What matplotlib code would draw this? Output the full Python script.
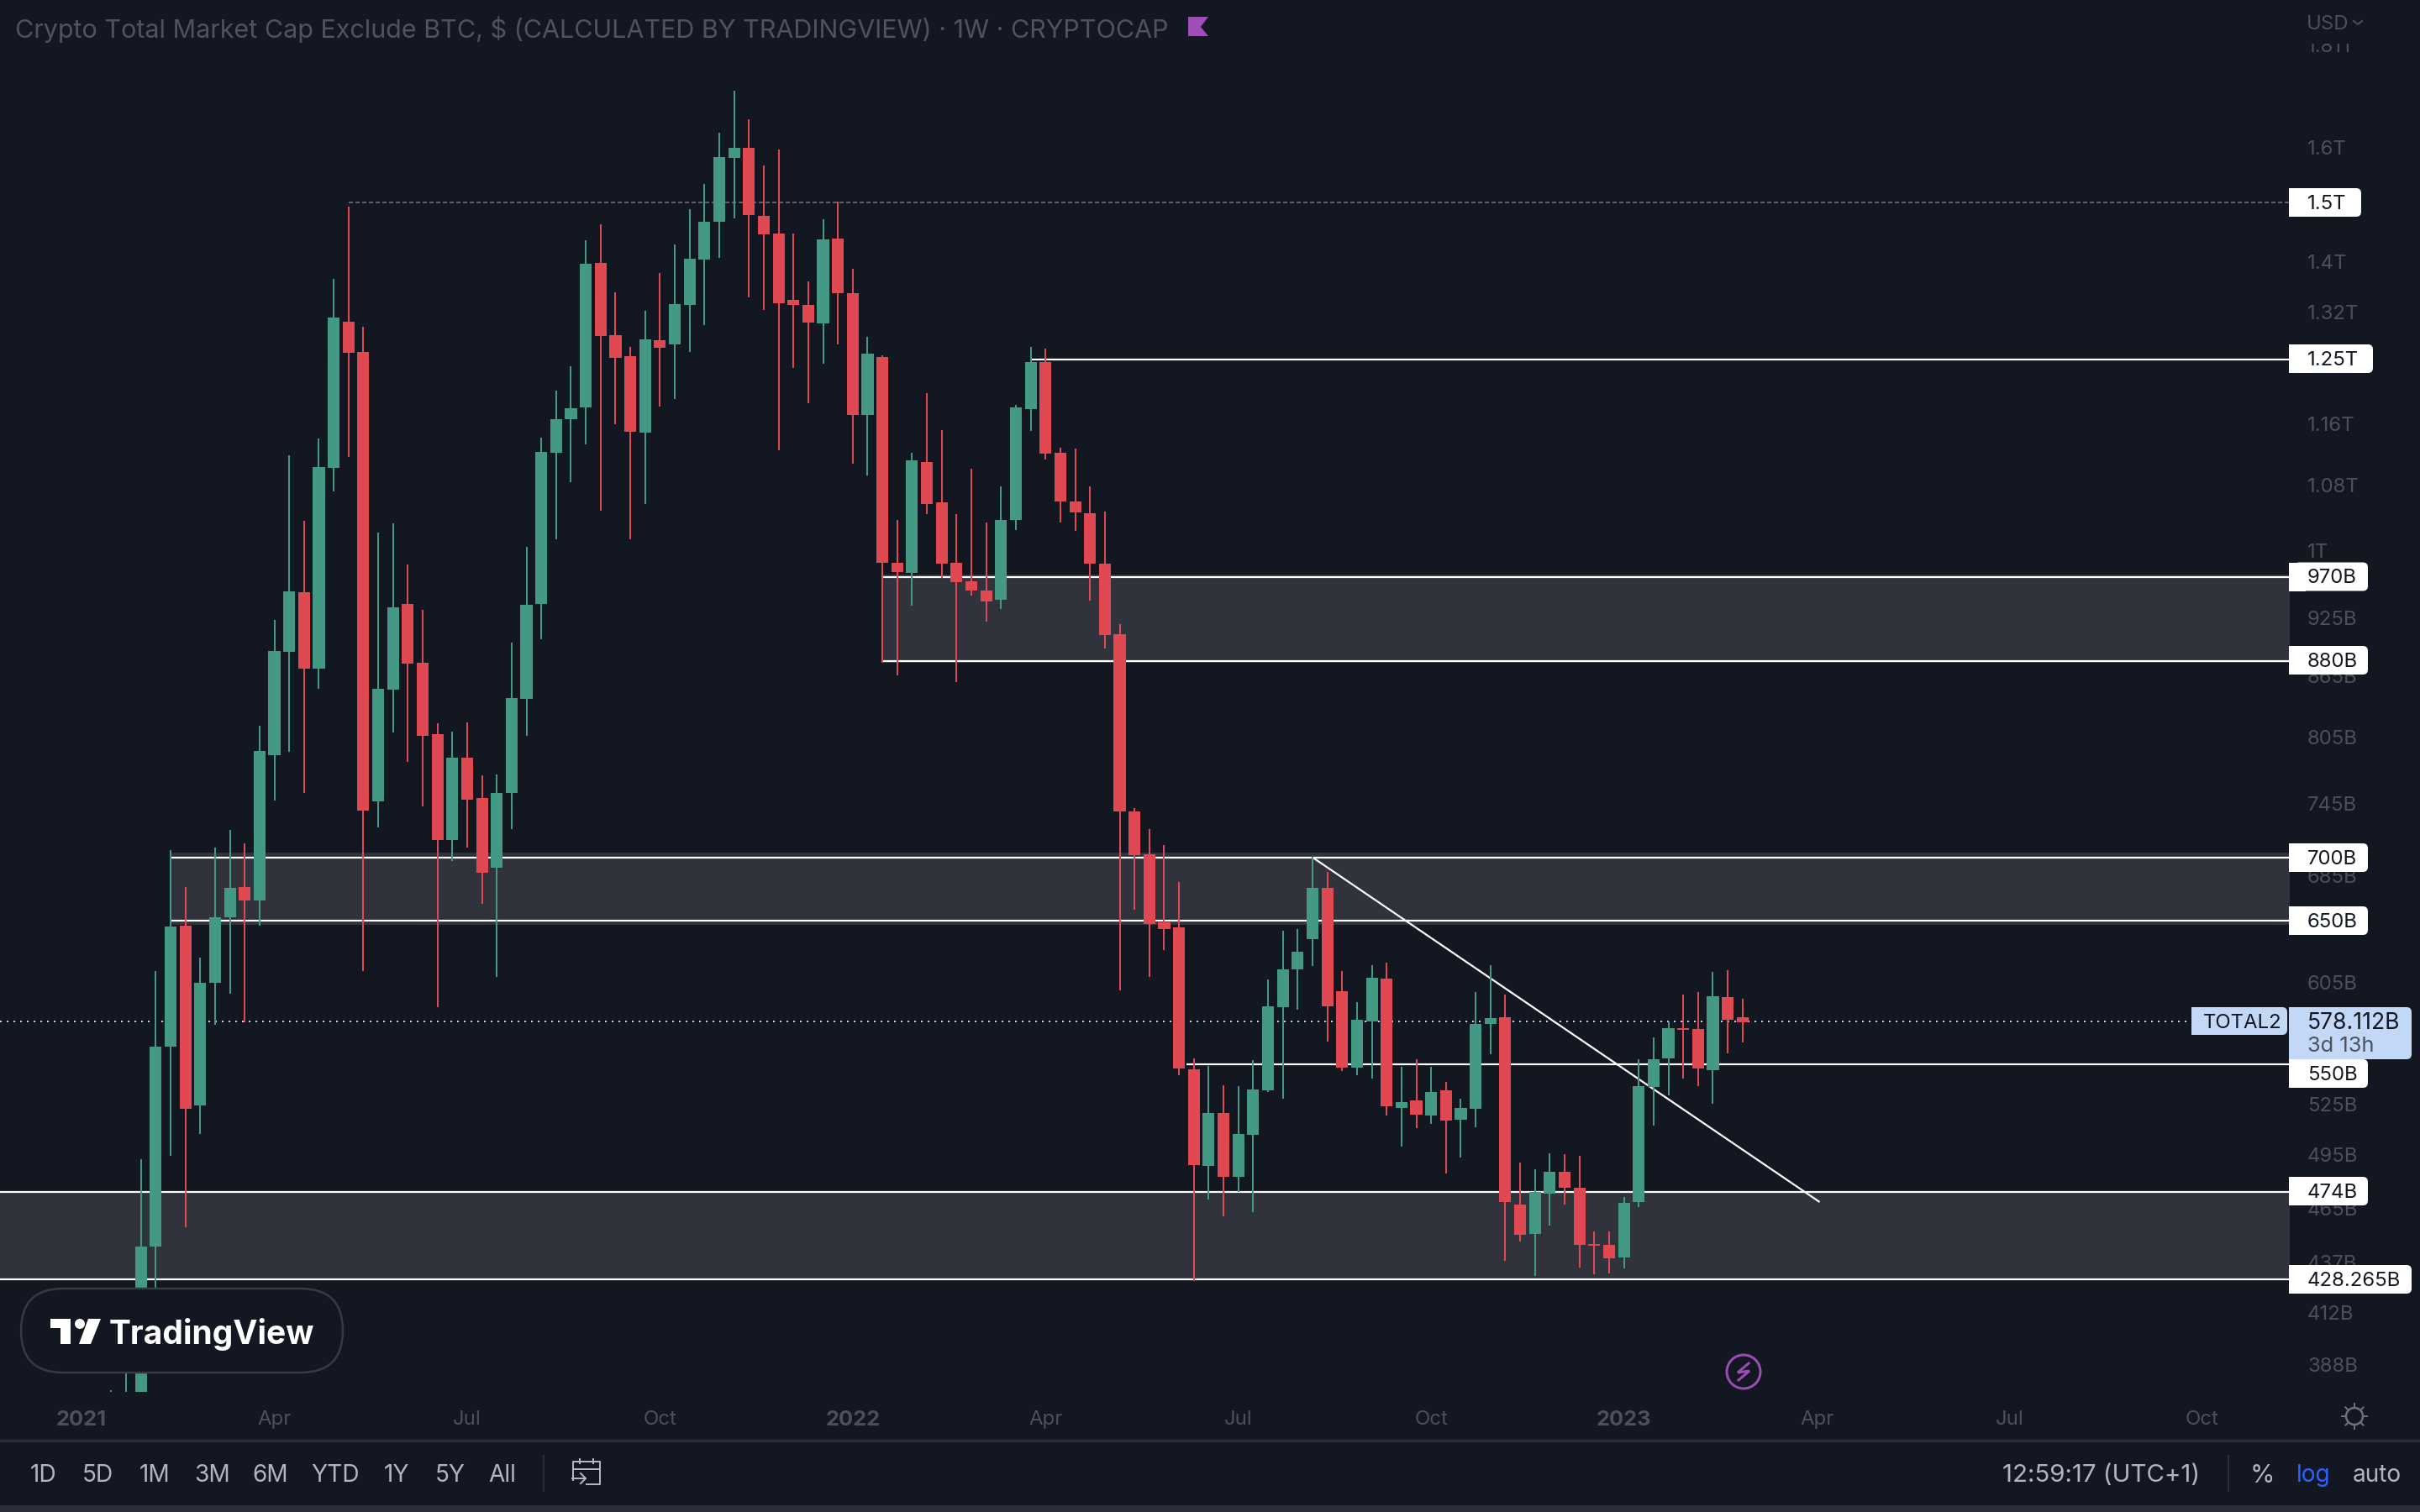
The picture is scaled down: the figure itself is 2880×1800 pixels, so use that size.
import numpy as np
import matplotlib
matplotlib.use("Agg")
import matplotlib.pyplot as plt
from matplotlib.patches import Rectangle, FancyBboxPatch, Circle, Polygon

plt.rcParams['font.family'] = ['Inter', 'DejaVu Sans']

# =====================
# DATA (billions USD, weekly candles)
# =====================

first_week = -1

opens = [360.2,360.2,373.8,444.9,561.5,646.3,524.3,604.8,652.7,676.1,665.6,788.3,889.0,952.9,
871.8,1101.3,1305.5,1260.4,747.0,850.7,940.0,877.8,807.8,714.1,785.9,749.9,691.5,754.3,
841.6,940.0,1120.8,1165.5,1181.6,1398.0,1285.3,1254.2,1147.5,1277.8,1271.5,1331.3,1403.5,1466.6,
1579.8,1598.4,1476.7,1446.7,1339.2,1331.3,1303.0,1438.2,1349.7,1171.3,1253.0,986.1,974.6,1108.9,
1058.0,986.1,965.1,954.8,944.6,1036.5,1179.3,1245.7,1120.8,1059.0,1044.6,985.1,907.4,738.3,
702.4,648.9,645.1,546.8,488.7,519.7,482.5,506.7,533.6,587.9,614.3,636.3,675.4,598.9,
547.9,578.2,607.7,522.8,527.4,518.2,533.6,515.7,522.3,576.5,581.0,467.2,451.5,473.1,
485.3,476.4,446.2,445.8,439.3,468.5,535.7,553.8,573.7,573.1,546.3,594.8,581.0]

highs = [376.4,406.2,492.5,613.1,705.8,676.1,622.8,707.9,722.6,711.3,815.7,922.7,1117.6,1035.5,
1139.6,1372.3,1492.7,1297.9,1021.4,1032.5,984.2,933.5,818.1,810.1,818.9,770.0,770.7,898.6,
1004.6,1140.7,1204.9,1239.6,1435.4,1462.3,1351.0,1267.8,1322.2,1381.7,1428.4,1488.3,1532.6,1626.8,
1708.3,1652.5,1565.9,1595.3,1446.7,1368.3,1471.0,1501.5,1388.5,1282.8,1255.5,1036.5,1120.8,1201.4,
1150.8,1043.6,1100.2,1033.5,1077.8,1185.1,1267.8,1265.3,1127.4,1126.3,1077.8,1046.7,918.2,741.2,
723.3,710.0,680.1,553.8,549.0,536.8,536.2,552.7,607.1,642.6,643.8,700.3,688.1,613.1,
591.3,617.3,619.1,548.4,553.3,548.4,538.9,528.4,598.3,617.3,596.5,490.6,486.8,495.9,
495.4,494.4,452.8,452.8,471.3,553.3,567.5,578.2,596.5,598.3,612.5,613.7,593.6]

lows = [353.2,353.2,353.2,421.2,494.4,455.0,507.2,575.9,597.1,577.6,646.3,747.7,791.3,754.3,
851.6,1071.5,1115.4,613.1,724.7,809.3,782.1,742.6,587.9,696.9,707.9,663.0,608.9,723.3,
806.2,902.1,1013.5,1083.1,1131.9,1047.7,1158.7,1013.5,1055.9,1182.8,1193.2,1260.4,1300.4,1406.3,
1472.4,1343.1,1323.5,1124.1,1237.2,1187.4,1243.2,1271.5,1106.7,1091.6,877.8,865.0,938.1,1043.6,
968.9,858.2,949.2,920.8,934.5,1024.4,1149.7,1112.1,1033.5,1023.4,943.6,892.5,599.5,658.5,
608.9,628.3,543.1,427.4,469.9,460.8,474.1,463.1,532.6,528.4,586.1,616.7,564.8,545.8,
543.1,541.0,518.2,499.8,510.6,513.2,484.4,493.5,511.1,556.5,437.5,447.5,429.9,455.9,
467.2,434.1,430.8,431.2,433.7,465.8,512.1,530.5,541.0,536.2,525.3,557.1,564.2]

closes = [367.3,373.8,444.9,561.5,645.7,522.3,604.8,652.7,675.4,665.6,792.1,889.9,953.8,871.8,
1102.4,1311.9,1259.2,739.0,851.6,936.3,876.9,806.2,714.1,785.9,748.4,687.4,754.3,842.5,
939.0,1121.9,1165.5,1180.5,1396.7,1284.0,1251.8,1148.6,1279.0,1266.6,1332.6,1404.9,1466.6,1581.3,
1598.4,1478.2,1445.3,1333.9,1331.3,1304.3,1436.8,1349.7,1171.3,1257.9,986.1,975.5,1111.0,1055.9,
985.1,964.2,954.8,942.7,1036.5,1181.6,1245.7,1119.7,1059.0,1045.7,985.1,906.6,738.3,701.7,
647.6,643.8,547.4,489.1,519.7,482.5,507.2,534.1,588.4,614.3,627.0,675.4,588.4,547.9,
579.3,608.3,523.8,526.4,518.7,532.6,515.2,522.8,576.5,580.4,468.5,451.0,474.1,485.3,
476.4,445.8,445.3,438.8,468.1,536.2,553.3,573.7,572.5,547.4,595.4,579.3,577.6]

price_ticks = [1802, 1600, 1400, 1320, 1160, 1080, 1000, 925, 865, 805, 745, 685,
               605, 525, 495, 465, 437, 412, 388]
price_labels = ["1.81T", "1.6T", "1.4T", "1.32T", "1.16T", "1.08T", "1T", "925B", "865B", "805B",
                "745B", "685B", "605B", "525B", "495B", "465B", "437B", "412B", "388B"]

time_ticks = [-3, 10, 23, 36, 49, 62, 75, 88, 101, 114, 127, 140]
time_labels = ["2021", "Apr", "Jul", "Oct", "2022", "Apr", "Jul", "Oct", "2023", "Apr", "Jul", "Oct"]

# zonas grises: arriba, abajo, semana inicial
zone_tops = [704, 973, 474]
zone_bottoms = [647, 878, 428.265]
zone_starts = [3, 51, -9]

# niveles blancos
level_values = [970, 880, 700, 650, 550, 474, 428.265, 1250]
level_starts = [51, 51, 3, 3, 71.5, -9, -9, 61.1]
resistance_value = 1500
resistance_start = 15
last_price = 578.112
trend_x = [80, 114.2]
trend_y = [700, 468.6]

box_values = ["1.5T", "1.25T", "970B", "880B", "700B", "650B", "550B", "474B", "428.265B"]
box_rows = [241, 427, 686.5, 786, 1021, 1096, 1278, 1418, 1523]
box_ends = [2810, 2824, 2818, 2818, 2818, 2818, 2818, 2818, 2870]

toolbar_left = ["1D", "5D", "1M", "3M", "6M", "YTD", "1Y", "5Y", "All"]
toolbar_left_x = [52, 116, 184, 253, 322, 399, 472, 536, 598]

# =====================
# COLORES
# =====================

BG = "#131722"
GREEN = "#449984"
RED = "#e04951"
ZONE = "#30333b"
TICK = "#4d505b"
BOX_BLUE = "#c3d8f6"
LIGHT = "#b2b5be"
SEP = "#2a2e39"
PURPLE = "#9a4db3"

W, H = 2880, 1800
PANE_R, PANE_B = 2724, 1657
px = 0.72  # puntos por pixel con dpi=100

fig = plt.figure(figsize=(W / 100, H / 100), dpi=100, facecolor=BG)
ax = fig.add_axes([0, (H - PANE_B) / H, PANE_R / W, PANE_B / H], facecolor=BG)
ax.set_yscale("log")

xmin, xmax = -8.5, 145.84
ax.set_xlim(xmin, xmax)
ax.set_ylim(375.7, 1899)

# zonas y lineas
for top, bot, start in zip(zone_tops, zone_bottoms, zone_starts):
    ax.fill_between([start, xmax + 1], bot, top, color=ZONE, lw=0, zorder=1)

for val, start in zip(level_values, level_starts):
    ax.plot([start, xmax + 1], [val, val], color="white", lw=2.2 * px, zorder=2, solid_capstyle="butt")

ax.plot([resistance_start, xmax + 1], [resistance_value] * 2, color="#5d606b", lw=2 * px,
        ls=(0, (2.5, 1.5)), zorder=2)
ax.plot([xmin, 139.2], [last_price] * 2, color=BOX_BLUE, lw=2 * px, ls=(0, (1, 3)), zorder=2)
ax.plot(trend_x, trend_y, color="white", lw=2.2 * px, zorder=2, solid_capstyle="butt")

# velas
weeks = np.arange(len(opens)) + first_week
opens = np.array(opens)
closes = np.array(closes)
candle_colors = [GREEN if c >= o else RED for o, c in zip(opens, closes)]
ax.vlines(weeks, lows, highs, colors=candle_colors, lw=2.0 * px, zorder=3)
ax.bar(weeks, np.abs(closes - opens), bottom=np.minimum(opens, closes), width=0.8,
       color=candle_colors, lw=0, zorder=4)

# ejes
for s in ax.spines.values():
    s.set_visible(False)
ax.yaxis.tick_right()
ax.set_yticks(price_ticks, price_labels)
ax.set_yticks([], minor=True)
ax.set_xticks(time_ticks, time_labels)
ax.tick_params(axis="y", length=0, pad=22 * px, labelsize=24 * px, labelcolor=TICK)
ax.tick_params(axis="x", length=0, pad=22 * px, labelsize=24 * px, labelcolor=TICK)
for lab in ax.get_xticklabels():
    lab.set_clip_on(False)
    if lab.get_text().startswith("20"):
        lab.set_fontweight("bold")
        lab.set_fontsize(25.5 * px)

# =====================
# CAPA DE INTERFAZ (en pixeles)
# =====================

ui = fig.add_axes([0, 0, 1, 1], facecolor="none", zorder=10)
ui.set_xlim(0, W)
ui.set_ylim(H, 0)
ui.axis("off")


def label_box(x0, x1, y0, y1, color):
    ui.add_patch(FancyBboxPatch((x0 + 6, y0), x1 - x0 - 6, y1 - y0, boxstyle="round,pad=0,rounding_size=6",
                                fc=color, ec="none"))
    ui.add_patch(Rectangle((x0, y0), 20, y1 - y0, fc=color, ec="none"))


# cabecera
ui.add_patch(Rectangle((PANE_R, 0), W - PANE_R, 52, fc=BG, ec="none"))
ui.text(18, 35, "Crypto Total Market Cap Exclude BTC, $ (CALCULATED BY TRADINGVIEW) \u00b7 1W \u00b7 CRYPTOCAP",
        color="#50535e", fontsize=30.5 * px, va="center")
ui.add_patch(Polygon([(1414, 20), (1438, 20), (1429, 32), (1438, 43), (1414, 43)], fc="#9c4fb5", ec="none"))
ui.text(2745, 29, "USD", color=TICK, fontsize=24 * px, va="center")
ui.plot([2801, 2806, 2811], [25, 29, 25], color=TICK, lw=2 * px)

# etiquetas de precio
for txt, yc, x1 in zip(box_values, box_rows, box_ends):
    label_box(PANE_R, x1, yc - 17, yc + 17, "white")
    ui.text(2746, yc + 2, txt, color="#131722", fontsize=24 * px, va="center")

label_box(2608, 2722, 1199, 1232, BOX_BLUE)
ui.text(2622, 1218, "TOTAL2", color="#131722", fontsize=24 * px, va="center")
label_box(PANE_R, 2870, 1199, 1261, BOX_BLUE)
ui.text(2746, 1218, "578.112B", color="#131722", fontsize=26.5 * px, va="center")
ui.text(2746, 1245, "3d 13h", color="#4c525e", fontsize=25.5 * px, va="center")

# logo
ui.add_patch(FancyBboxPatch((25, 1534), 383, 100, boxstyle="round,pad=0,rounding_size=50",
                            fc=BG, ec="#363a45", lw=2.5 * px))
ui.add_patch(Polygon([(60, 1570), (84, 1570), (84, 1600), (72, 1600), (72, 1581), (60, 1581)], fc="white", ec="none"))
ui.add_patch(Circle((95, 1576), 6, fc="white", ec="none"))
ui.add_patch(Polygon([(105, 1570), (120, 1570), (108, 1600), (94, 1600)], fc="white", ec="none"))
ui.text(130, 1588, "TradingView", color="white", fontsize=39 * px, fontweight="bold", va="center")

# icono rayo
ui.add_patch(Circle((2075, 1633), 20, fc=BG, ec=PURPLE, lw=3 * px))
ui.plot([2081, 2068, 2082, 2069], [1623, 1634, 1632, 1643], color=PURPLE, lw=3 * px, solid_joinstyle="miter")

# icono ajustes
GEAR = "#6e717c"
ui.add_patch(Circle((2802, 1686), 10, fc="none", ec=GEAR, lw=2.5 * px))
for a in np.deg2rad(np.arange(0, 360, 45)):
    ui.plot([2802 + 10 * np.cos(a), 2802 + 15 * np.cos(a)], [1686 + 10 * np.sin(a), 1686 + 15 * np.sin(a)],
            color=GEAR, lw=2 * px)

# barra inferior
ui.add_patch(Rectangle((0, 1714), W, 2.5, fc=SEP, ec="none"))
ui.add_patch(Rectangle((0, 1792), W, 8, fc=SEP, ec="none"))
for txt, x in zip(toolbar_left, toolbar_left_x):
    ui.text(x, 1757, txt, color=LIGHT, fontsize=28 * px, ha="center", va="center")
ui.add_patch(Rectangle((646, 1732), 2, 44, fc=SEP, ec="none"))
ui.add_patch(Rectangle((2651, 1732), 2, 44, fc=SEP, ec="none"))

# icono calendario
ui.plot([682, 682, 714, 714, 698], [1762, 1740, 1740, 1767, 1767], color=LIGHT, lw=2 * px)
ui.plot([682, 714], [1749, 1749], color=LIGHT, lw=2 * px)
ui.plot([690, 690], [1737, 1742], color=LIGHT, lw=2 * px)
ui.plot([706, 706], [1737, 1742], color=LIGHT, lw=2 * px)
ui.plot([681, 697], [1760, 1760], color=LIGHT, lw=2 * px)
ui.plot([691, 697, 691], [1754, 1760, 1766], color=LIGHT, lw=2 * px)

ui.text(2618, 1757, "12:59:17 (UTC+1)", color=LIGHT, fontsize=29.5 * px, ha="right", va="center")
ui.text(2692, 1757, "%", color=LIGHT, fontsize=30 * px, ha="center", va="center")
ui.text(2753, 1757, "log", color="#2962ff", fontsize=28 * px, ha="center", va="center")
ui.text(2829, 1757, "auto", color=LIGHT, fontsize=28 * px, ha="center", va="center")

fig.savefig("out.png", dpi=100, facecolor=BG)
